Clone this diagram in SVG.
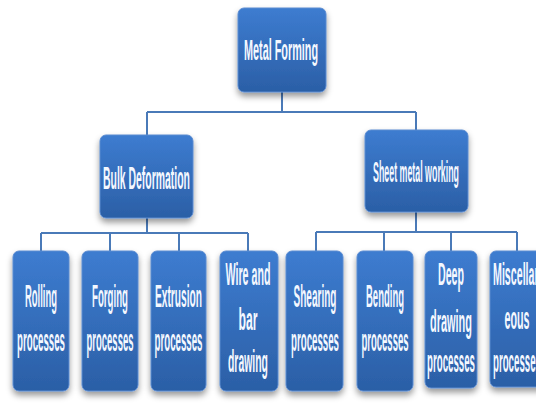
<svg xmlns="http://www.w3.org/2000/svg" width="536" height="403" viewBox="0 0 536 403">
<defs>
<linearGradient id="g" x1="0" y1="0" x2="0" y2="1">
<stop offset="0" stop-color="#3d7cd0"/>
<stop offset="1" stop-color="#2b5fa6"/>
</linearGradient>
<filter id="sh" x="-20%" y="-20%" width="140%" height="150%">
<feDropShadow dx="0" dy="4" stdDeviation="3" flood-color="#000" flood-opacity="0.4"/>
</filter>
</defs>
<style>
.box{fill:url(#g);stroke:#5b8bd0;stroke-width:1;filter:url(#sh)}
.t{font-family:"Liberation Sans",Arial,sans-serif;font-weight:bold;fill:#f4f8ff;text-anchor:middle}
.c{fill:none;stroke:#4a7ab8;stroke-width:2}
</style>
<rect width="536" height="403" fill="#ffffff"/>
<g id="connectors">
<path class="c" d="M282 92V112M147 112H416M147 112V135M416 112V130"/>
<path class="c" d="M147 218V233M41 233H248M41 233V251M110 233V251M179 233V251M248 233V251"/>
<path class="c" d="M416 212V232M316 232H517M316 232V251M384 232V251M451 232V251M517 232V251"/>
</g>
<g id="metal-forming">
<rect class="box" x="238" y="8" width="88" height="84" rx="6"/>
<text class="t" transform="scale(0.36,1)" x="780.56" y="60" font-size="30" textLength="205.56" lengthAdjust="spacingAndGlyphs">Metal Forming</text>
</g>
<g id="bulk-deformation">
<rect class="box" x="100" y="135" width="93" height="83" rx="6"/>
<text class="t" transform="scale(0.3125,1)" x="468.8" y="189" font-size="32" textLength="278.4" lengthAdjust="spacingAndGlyphs">Bulk Deformation</text>
</g>
<g id="sheet-metal-working">
<rect class="box" x="365" y="130" width="103" height="82" rx="6"/>
<text class="t" transform="scale(0.3125,1)" x="1331.2" y="182" font-size="29" textLength="275.2" lengthAdjust="spacingAndGlyphs">Sheet metal working</text>
</g>
<g id="rolling">
<rect class="box" x="13" y="251" width="56" height="140" rx="6"/>
<text class="t" transform="scale(0.3125,1)" x="131.2" y="307" font-size="32" textLength="102.4" lengthAdjust="spacingAndGlyphs">Rolling</text>
<text class="t" transform="scale(0.3125,1)" x="131.2" y="351" font-size="32" textLength="153.6" lengthAdjust="spacingAndGlyphs">processes</text>
</g>
<g id="forging">
<rect class="box" x="82" y="251" width="56" height="140" rx="6"/>
<text class="t" transform="scale(0.3125,1)" x="352" y="307" font-size="32" textLength="115.2" lengthAdjust="spacingAndGlyphs">Forging</text>
<text class="t" transform="scale(0.3125,1)" x="352" y="351" font-size="32" textLength="150.4" lengthAdjust="spacingAndGlyphs">processes</text>
</g>
<g id="extrusion">
<rect class="box" x="151" y="251" width="55" height="140" rx="6"/>
<text class="t" transform="scale(0.3125,1)" x="571.2" y="307" font-size="32" textLength="150.4" lengthAdjust="spacingAndGlyphs">Extrusion</text>
<text class="t" transform="scale(0.3125,1)" x="571.2" y="351" font-size="32" textLength="153.6" lengthAdjust="spacingAndGlyphs">processes</text>
</g>
<g id="wire-bar-drawing">
<rect class="box" x="220" y="251" width="58" height="140" rx="6"/>
<text class="t" transform="scale(0.3125,1)" x="793.6" y="285" font-size="32" textLength="144" lengthAdjust="spacingAndGlyphs">Wire and</text>
<text class="t" transform="scale(0.3125,1)" x="793.6" y="330" font-size="32" textLength="60.8" lengthAdjust="spacingAndGlyphs">bar</text>
<text class="t" transform="scale(0.3125,1)" x="793.6" y="372" font-size="32" textLength="128" lengthAdjust="spacingAndGlyphs">drawing</text>
</g>
<g id="shearing">
<rect class="box" x="286" y="251" width="57" height="140" rx="6"/>
<text class="t" transform="scale(0.3125,1)" x="1008" y="307" font-size="32" textLength="137.6" lengthAdjust="spacingAndGlyphs">Shearing</text>
<text class="t" transform="scale(0.3125,1)" x="1008" y="351" font-size="32" textLength="153.6" lengthAdjust="spacingAndGlyphs">processes</text>
</g>
<g id="bending">
<rect class="box" x="357" y="251" width="56" height="140" rx="6"/>
<text class="t" transform="scale(0.3125,1)" x="1232" y="307" font-size="32" textLength="121.6" lengthAdjust="spacingAndGlyphs">Bending</text>
<text class="t" transform="scale(0.3125,1)" x="1232" y="351" font-size="32" textLength="150.4" lengthAdjust="spacingAndGlyphs">processes</text>
</g>
<g id="deep-drawing">
<rect class="box" x="425" y="251" width="52" height="137" rx="6"/>
<text class="t" transform="scale(0.3125,1)" x="1443.2" y="285" font-size="32" textLength="83.2" lengthAdjust="spacingAndGlyphs">Deep</text>
<text class="t" transform="scale(0.3125,1)" x="1443.2" y="332" font-size="32" textLength="134.4" lengthAdjust="spacingAndGlyphs">drawing</text>
<text class="t" transform="scale(0.3125,1)" x="1443.2" y="372" font-size="32" textLength="153.6" lengthAdjust="spacingAndGlyphs">processes</text>
</g>
<g id="miscellaneous">
<rect class="box" x="490" y="251" width="56" height="136" rx="6"/>
<text class="t" transform="scale(0.3125,1)" x="1654.4" y="285" font-size="32" textLength="153.6" lengthAdjust="spacingAndGlyphs">Miscellan</text>
<text class="t" transform="scale(0.3125,1)" x="1654.4" y="329" font-size="32" textLength="80" lengthAdjust="spacingAndGlyphs">eous</text>
<text class="t" transform="scale(0.3125,1)" x="1654.4" y="372" font-size="32" textLength="153.6" lengthAdjust="spacingAndGlyphs">processes</text>
</g>
</svg>
